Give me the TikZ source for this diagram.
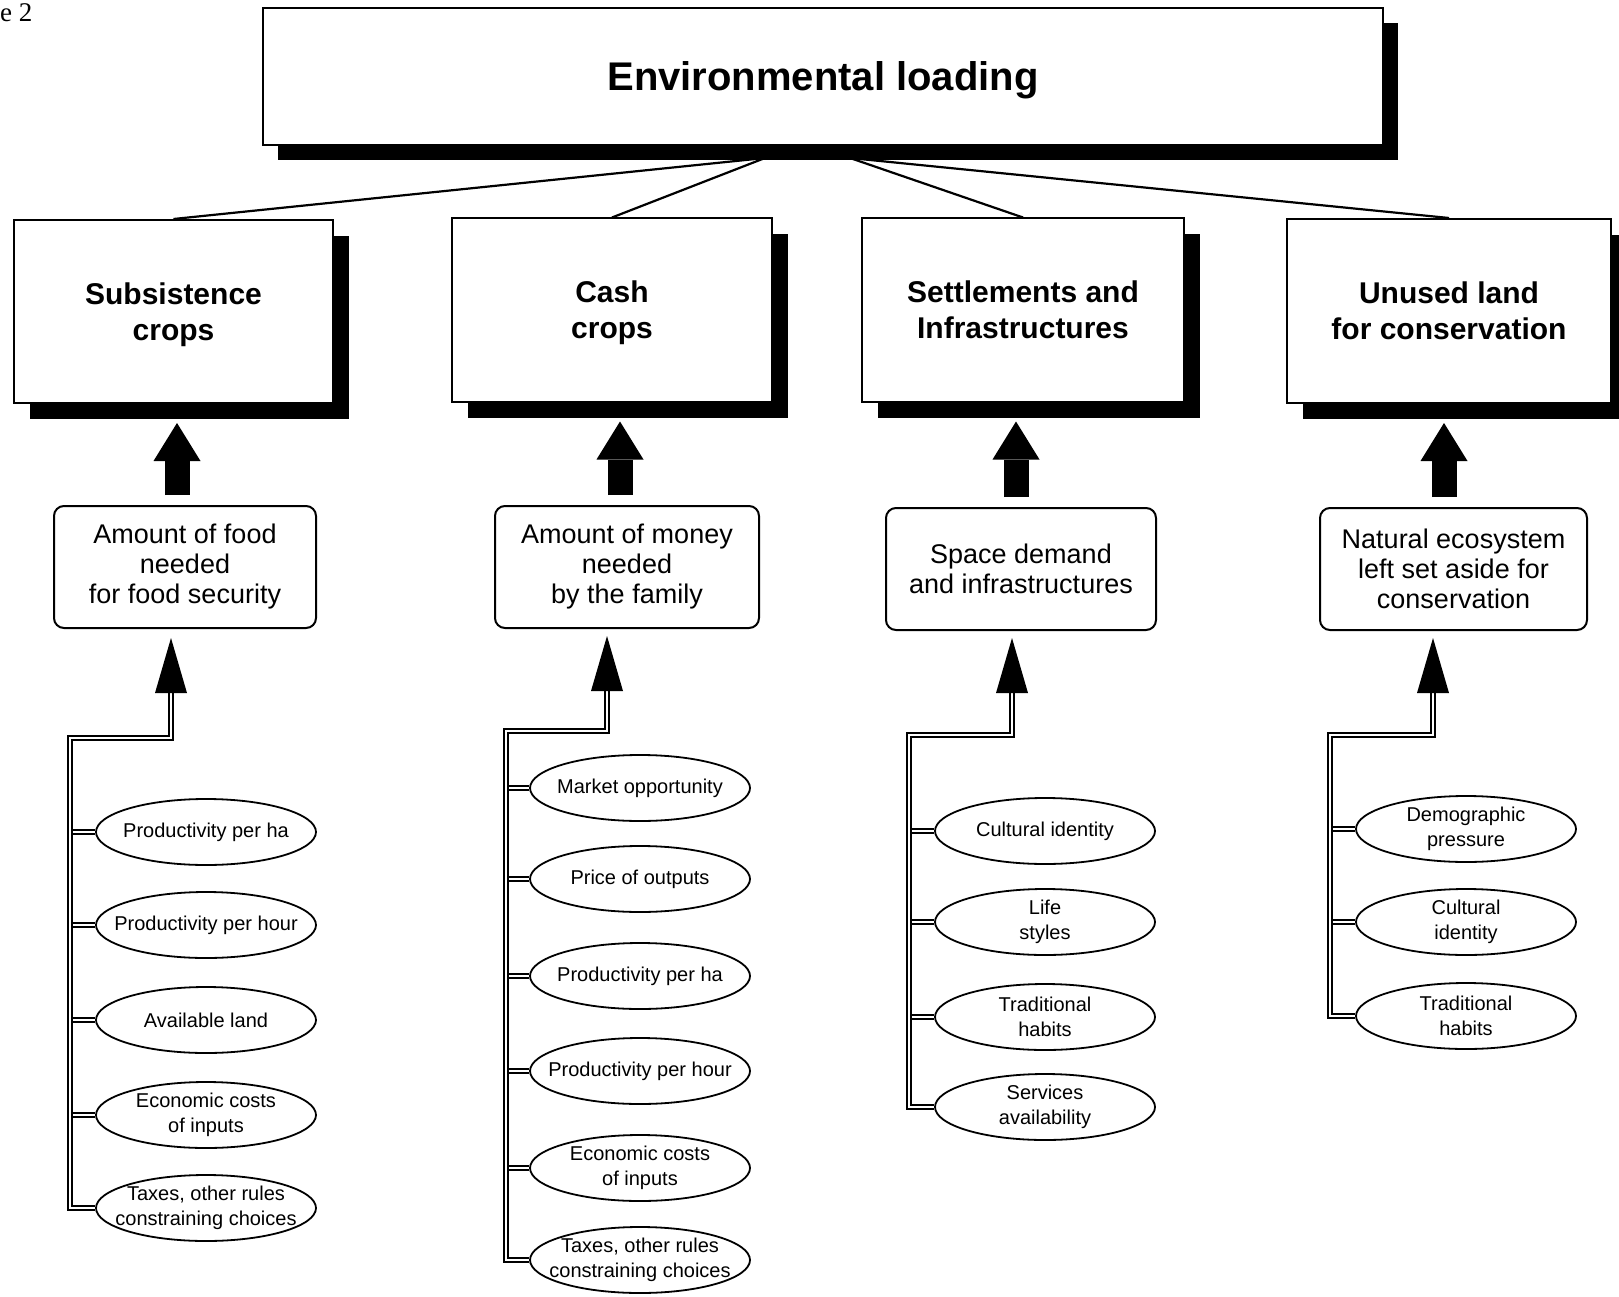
\documentclass[tikz,border=0pt]{standalone}
\usepackage{fontspec}
\setmainfont{Liberation Sans}
\newfontfamily\figserif{Liberation Serif}
\usetikzlibrary{shapes.geometric,arrows.meta,shadows}
\begin{document}
\begin{tikzpicture}[x=1pt,y=-1pt,
  topbox/.style={draw, line width=2pt, fill=white, inner sep=0pt,
    minimum width=1120pt, minimum height=137pt, text depth=0pt,
    font=\fontsize{40}{46}\selectfont\bfseries,
    drop shadow={shadow xshift=15pt, shadow yshift=-15pt, fill=black, opacity=1}},
  catbox/.style={draw, line width=2pt, fill=white, inner sep=0pt, align=center,
    text depth=0pt, font=\fontsize{30}{36}\selectfont\bfseries,
    drop shadow={shadow xshift=16pt, shadow yshift=-16pt, fill=black, opacity=1}},
  midbox/.style={draw, line width=2pt, fill=white, inner sep=0pt, align=center,
    rounded corners=10pt, font=\fontsize{27}{30}\selectfont},
  factor/.style={ellipse, draw, line width=1.8pt, fill=white, inner xsep=-16pt, inner ysep=0pt,
    align=center, minimum width=220pt, minimum height=66pt, font=\fontsize{20}{25}\selectfont},
  conn/.style={line width=2.2pt},
  dbl/.style={double=white, double distance=2.2pt, line width=1.8pt},
  bigarrow/.style={line width=25pt, -{Triangle[width=47pt,length=38pt,line width=0pt]},
    shorten <=10pt, shorten >=19pt},
  thinhead/.style={line width=1pt, -{Triangle[width=32pt,length=55pt,line width=0pt]}}
]
\useasboundingbox (0,0) rectangle (1619,1297);
\fill[white] (0,0) rectangle (1619,1297);

\node[anchor=base west, inner sep=0pt, font=\figserif\fontsize{27}{30}\selectfont] (fig) at (0,22) {e 2};

% top
\node[topbox] (top) at (823,76.5) {Environmental loading};

% categories
\node[catbox, minimum width=319pt, minimum height=183pt] (b1) at (173.5,311.5) {Subsistence\\crops};
\node[catbox, minimum width=320pt, minimum height=183pt] (b2) at (612,310) {Cash\\crops};
\node[catbox, minimum width=322pt, minimum height=183pt] (b3) at (1023,310) {Settlements and\\Infrastructures};
\node[catbox, minimum width=324pt, minimum height=184pt] (b4) at (1449,311) {Unused land\\for conservation};

% connectors from top
\coordinate (tA) at (765,158);
\coordinate (tB) at (850,158);
\draw[conn] (tA) -- (b1.north);
\draw[conn] (tA) -- (b2.north);
\draw[conn] (tB) -- (b3.north);
\draw[conn] (tB) -- (b4.north);

% middle boxes
\node[midbox, minimum width=262pt, minimum height=122pt] (r1) at (185,567) {Amount of food\\needed\\for food security};
\node[midbox, minimum width=264pt, minimum height=122pt] (r2) at (627,567) {Amount of money\\needed\\by the family};
\node[midbox, minimum width=270pt, minimum height=122pt] (r3) at (1021,569) {Space demand\\and infrastructures};
\node[midbox, minimum width=267pt, minimum height=122pt] (r4) at (1453.5,569) {Natural ecosystem\\left set aside for\\conservation};

% big arrows
\coordinate (ax1) at (177,0);
\coordinate (ax2) at (620,0);
\coordinate (ax3) at (1016,0);
\coordinate (ax4) at (1444,0);
\draw[bigarrow] (r1.north -| ax1) -- (ax1 |- b1.south);
\draw[bigarrow] (r2.north -| ax2) -- (ax2 |- b2.south);
\draw[bigarrow] (r3.north -| ax3) -- (ax3 |- b3.south);
\draw[bigarrow] (r4.north -| ax4) -- (ax4 |- b4.south);

% factors column 1
\node[factor] (e1a) at (206,832) {Productivity per ha};
\node[factor] (e1b) at (206,925) {Productivity per hour};
\node[factor] (e1c) at (206,1020) {Available land};
\node[factor] (e1d) at (206,1115) {Economic costs\\of inputs};
\node[factor] (e1e) at (206,1208) {Taxes, other rules\\constraining choices};

% factors column 2
\node[factor] (e2a) at (640,788) {Market opportunity};
\node[factor] (e2b) at (640,879) {Price of outputs};
\node[factor] (e2c) at (640,976) {Productivity per ha};
\node[factor] (e2d) at (640,1071) {Productivity per hour};
\node[factor] (e2e) at (640,1168) {Economic costs\\of inputs};
\node[factor] (e2f) at (640,1260) {Taxes, other rules\\constraining choices};

% factors column 3
\node[factor] (e3a) at (1045,831) {Cultural identity};
\node[factor] (e3b) at (1045,922) {Life\\styles};
\node[factor] (e3c) at (1045,1017) {Traditional\\habits};
\node[factor] (e3d) at (1045,1107) {Services\\availability};

% factors column 4
\node[factor] (e4a) at (1466,829) {Demographic\\pressure};
\node[factor] (e4b) at (1466,922) {Cultural\\identity};
\node[factor] (e4c) at (1466,1016) {Traditional\\habits};

% bus coordinates and arrow head bases
\coordinate (bus1) at (70,738);
\coordinate (bus2) at (506,731);
\coordinate (bus3) at (909,735);
\coordinate (bus4) at (1330,735);
\coordinate (hb1) at (171,692);
\coordinate (hb2) at (607,690);
\coordinate (hb3) at (1012,692);
\coordinate (hb4) at (1433,692);

% stubs
\foreach \e in {e1a,e1b,e1c,e1d} \draw[dbl] (\e.west) -- (\e.west -| bus1);
\foreach \e in {e2a,e2b,e2c,e2d,e2e} \draw[dbl] (\e.west) -- (\e.west -| bus2);
\foreach \e in {e3a,e3b,e3c} \draw[dbl] (\e.west) -- (\e.west -| bus3);
\foreach \e in {e4a,e4b} \draw[dbl] (\e.west) -- (\e.west -| bus4);

% buses
\draw[dbl] (e1e.west) -| (bus1) -- (bus1 -| hb1) -- (hb1);
\draw[dbl] (e2f.west) -| (bus2) -- (bus2 -| hb2) -- (hb2);
\draw[dbl] (e3d.west) -| (bus3) -- (bus3 -| hb3) -- (hb3);
\draw[dbl] (e4c.west) -| (bus4) -- (bus4 -| hb4) -- (hb4);

% thin arrow heads
\draw[thinhead, shorten >=9pt] (hb1) -- (hb1 |- r1.south);
\draw[thinhead, shorten >=7pt] (hb2) -- (hb2 |- r2.south);
\draw[thinhead, shorten >=7pt] (hb3) -- (hb3 |- r3.south);
\draw[thinhead, shorten >=7pt] (hb4) -- (hb4 |- r4.south);
\end{tikzpicture}
\end{document}
